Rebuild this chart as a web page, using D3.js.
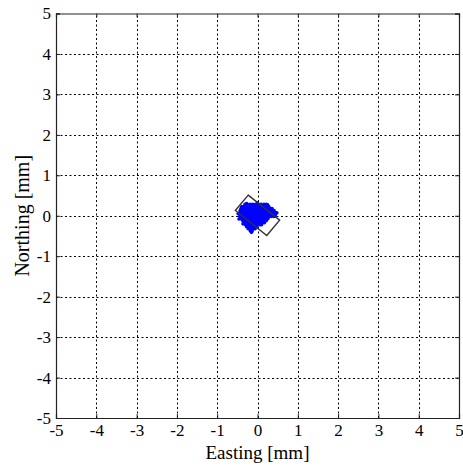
<!DOCTYPE html>
<html lang="en">
<head>
<meta charset="UTF-8">
<title>Easting / Northing scatter</title>
<script src="https://cdn.jsdelivr.net/npm/d3@7"></script>
<style>
  body { margin: 0; background: #fff; }
  text { font-family: "Liberation Serif", "Times New Roman", serif; fill: #000; }
</style>
</head>
<body>
<script>
// axis ticks
var ticks = [-5, -4, -3, -2, -1, 0, 1, 2, 3, 4, 5];

// rotated box outline (corners, mm)
var boxE = [-0.23, 0.55, 0.23, -0.55];
var boxN = [0.51, -0.11, -0.49, 0.13];

// point cloud, one row of eastings per northing value (mm)
var cloudNorth = [0.28, 0.23, 0.18, 0.13, 0.08, 0.03, -0.02, -0.07, -0.12, -0.17, -0.22, -0.27, -0.32, -0.37];
var cloudEast = [
  [-0.31, -0.25, -0.18, -0.12, -0.05, 0.02, 0.09, 0.16, 0.22],
  [-0.39, -0.33, -0.26, -0.19, -0.13, -0.06, 0.01, 0.07, 0.14, 0.21, 0.28],
  [-0.41, -0.35, -0.28, -0.21, -0.14, -0.08, -0.01, 0.06, 0.12, 0.19, 0.26, 0.33, 0.36],
  [-0.43, -0.37, -0.30, -0.23, -0.16, -0.10, -0.03, 0.04, 0.10, 0.17, 0.24, 0.30, 0.37, 0.41],
  [-0.44, -0.38, -0.31, -0.25, -0.18, -0.11, -0.04, 0.02, 0.09, 0.15, 0.22, 0.29, 0.35, 0.42, 0.45],
  [-0.44, -0.37, -0.30, -0.24, -0.17, -0.10, -0.03, 0.04, 0.11, 0.17, 0.24, 0.31, 0.38, 0.44],
  [-0.44, -0.38, -0.31, -0.24, -0.18, -0.11, -0.05, 0.02, 0.08, 0.15, 0.22, 0.28, 0.34, 0.40],
  [-0.41, -0.35, -0.28, -0.21, -0.15, -0.08, -0.01, 0.05, 0.12, 0.19, 0.26],
  [-0.37, -0.31, -0.24, -0.18, -0.11, -0.04, 0.02, 0.09, 0.16, 0.22],
  [-0.34, -0.28, -0.21, -0.14, -0.08, -0.01, 0.06, 0.13, 0.17],
  [-0.30, -0.24, -0.17, -0.11, -0.04, 0.03, 0.07],
  [-0.27, -0.21, -0.14, -0.08, -0.02],
  [-0.23, -0.17, -0.11, -0.06],
  [-0.18, -0.13]
];
// a few stray points round the edge
var strayE = [-0.48, 0.48, -0.15, 0.00, -0.36, 0.25, -0.27, 0.44, -0.46, 0.10];
var strayN = [0.05, 0.07, -0.41, 0.32, -0.20, 0.27, 0.30, -0.01, -0.08, -0.22];

var width = 463, height = 466;
var margin = {top: 13.5, right: 3, bottom: 48, left: 56};

var svg = d3.select("body").append("svg")
  .attr("width", width).attr("height", height);

var x = d3.scaleLinear().domain([-5, 5]).range([margin.left, width - margin.right - 1]);
var y = d3.scaleLinear().domain([-5, 5]).range([height - margin.bottom, margin.top]);

// grid
var grid = svg.append("g").attr("stroke", "#000").attr("stroke-width", 1)
  .attr("stroke-dasharray", "2,2.5").attr("fill", "none");
grid.selectAll(".gx").data(ticks.slice(1, -1)).enter().append("line")
  .attr("x1", function(d) { return Math.round(x(d)) + 0.5; })
  .attr("x2", function(d) { return Math.round(x(d)) + 0.5; })
  .attr("y1", y(-5)).attr("y2", y(5));
grid.selectAll(".gy").data(ticks.slice(1, -1)).enter().append("line")
  .attr("y1", function(d) { return Math.round(y(d)) + 0.5; })
  .attr("y2", function(d) { return Math.round(y(d)) + 0.5; })
  .attr("x1", x(-5)).attr("x2", x(5));

// cloud points
var pts = [];
cloudNorth.forEach(function(n, i) {
  cloudEast[i].forEach(function(e) { pts.push([e, n]); });
});
strayE.forEach(function(e, i) { pts.push([e, strayN[i]]); });

svg.append("g").selectAll("circle").data(pts).enter().append("circle")
  .attr("cx", function(d) { return x(d[0]); })
  .attr("cy", function(d) { return y(d[1]); })
  .attr("r", 1.8)
  .attr("fill", "#0000ff");

// box outline
var corners = boxE.map(function(e, i) { return [x(e), y(boxN[i])]; });
svg.append("path")
  .attr("d", d3.line()(corners) + "Z")
  .attr("fill", "none")
  .attr("stroke", "#333")
  .attr("stroke-width", 1.4);

// axes, box style with inward ticks
var tl = 4;
var fmt = function(d) { return String(d); };
var axB = svg.append("g").attr("transform", "translate(0," + y(-5) + ")")
  .call(d3.axisBottom(x).tickValues(ticks).tickSize(-tl).tickPadding(6).tickFormat(fmt));
svg.append("g").attr("transform", "translate(0," + y(5) + ")")
  .call(d3.axisTop(x).tickValues(ticks).tickSize(-tl).tickFormat(""));
var axL = svg.append("g").attr("transform", "translate(" + x(-5) + ",0)")
  .call(d3.axisLeft(y).tickValues(ticks).tickSize(-tl).tickPadding(5).tickFormat(fmt));
svg.append("g").attr("transform", "translate(" + x(5) + ",0)")
  .call(d3.axisRight(y).tickValues(ticks).tickSize(-tl).tickFormat(""));

[axB, axL].forEach(function(a) {
  a.attr("font-family", "'Liberation Serif', serif").attr("font-size", 17);
});
svg.selectAll(".domain").attr("stroke", "#222").attr("stroke-width", 1.2);
svg.selectAll(".tick line").attr("stroke", "#222");
svg.selectAll(".tick text").attr("fill", "#000");

// axis titles
svg.append("text")
  .attr("x", x(0)).attr("y", 459)
  .attr("text-anchor", "middle")
  .style("font-size", "19px")
  .text("Easting [mm]");
svg.append("text")
  .attr("transform", "translate(29," + y(0) + ") rotate(-90)")
  .attr("text-anchor", "middle")
  .style("font-size", "20px")
  .text("Northing [mm]");
</script>
</body>
</html>
